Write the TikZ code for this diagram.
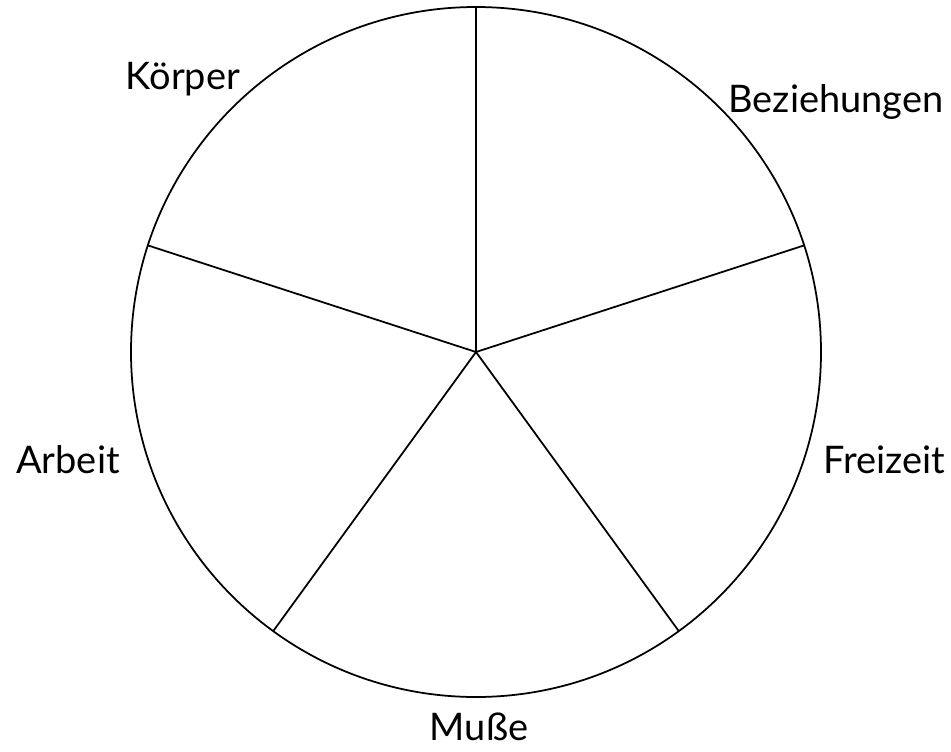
\documentclass[tikz,border=0pt]{standalone}
\usepackage{fontspec}
\setmainfont{Lato}
\usetikzlibrary{calc}
\begin{document}
\begin{tikzpicture}[x=0.01cm,y=-0.01cm]
  \def\R{345}
  \tikzset{area/.style={anchor=base,font=\fontsize{10.8pt}{13pt}\selectfont}}
  \useasboundingbox (0,0) rectangle (951,751);

  % Wheel
  \coordinate (mid) at (476,352);
  \draw[line width=0.5pt] (mid) circle[radius=\R];
  \foreach \ang [count=\i] in {90,18,-54,-126,162} {
    \coordinate (rim\i) at ($(mid)+({\R*cos(\ang)},{-\R*sin(\ang)})$);
    \draw[line width=0.5pt] (mid) -- (rim\i);
  }

  % Labels
  \node[area] (koerper) at (183,89) {Körper};
  \node[area] (bez) at (836,112) {Beziehungen};
  \node[area] (frei) at (884,473) {Freizeit};
  \node[area] (muse) at (479,740) {Muße};
  \node[area] (arbeit) at (68,473) {Arbeit};
\end{tikzpicture}
\end{document}
